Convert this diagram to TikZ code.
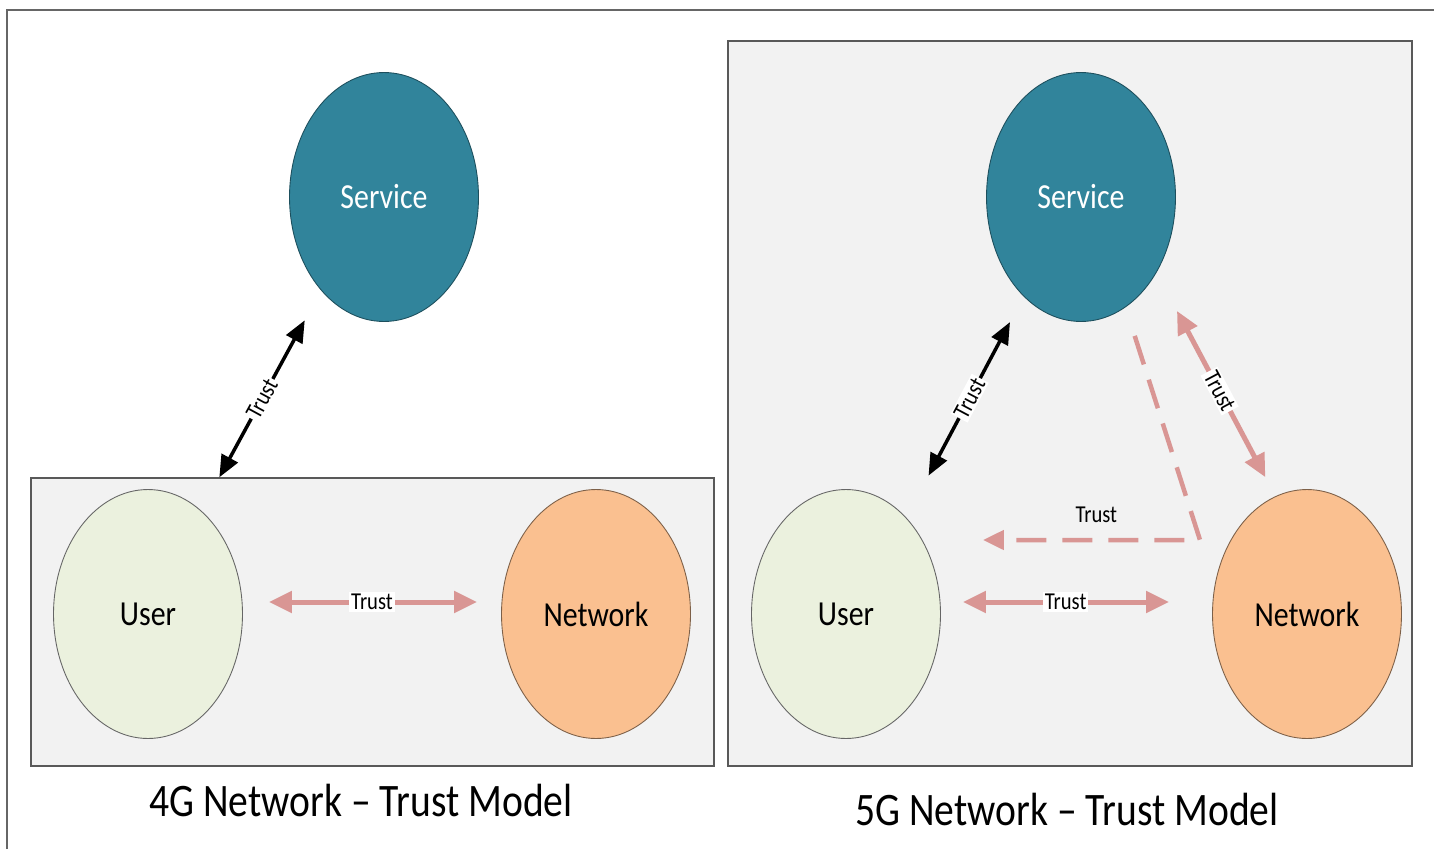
\documentclass[tikz,border=0pt]{standalone}
\usepackage{fontspec}
\setmainfont[FakeStretch=0.85]{Carlito}
\usepackage{xcolor}
\usepackage{tikz}
\usetikzlibrary{arrows.meta,positioning,shapes.geometric,calc}
\definecolor{svcteal}{HTML}{31849B}
\definecolor{usrgreen}{HTML}{EBF1DE}
\definecolor{netorange}{HTML}{FAC090}
\definecolor{pinkarrow}{HTML}{D99694}
\definecolor{panelgray}{HTML}{F2F2F2}
\tikzset{
  oval/.style={
    ellipse, minimum width=3.78cm, minimum height=4.98cm, inner sep=0pt,
    line width=0.5pt, font=\fontsize{20}{24}\selectfont
  },
  svcnode/.style={oval, fill=svcteal, draw=svcteal!60!black, text=white},
  usrnode/.style={oval, fill=usrgreen, draw=black!60},
  netnode/.style={oval, fill=netorange, draw=netorange!50!black},
  panel/.style={
    rectangle, draw=black!65, fill=panelgray, line width=0.8pt, inner sep=0pt
  },
  caption/.style={font=\fontsize{26.5}{30}\selectfont, inner sep=0pt},
  lbl/.style={font=\fontsize{13.8}{16}\selectfont, inner sep=1pt, text=black},
  lblw/.style={lbl, fill=white},
  trustblk/.style={{Triangle[length=0.44cm,width=0.36cm]}-{Triangle[length=0.44cm,width=0.36cm]},
    line width=0.07cm, color=black},
  trustpink/.style={{Triangle[length=0.46cm,width=0.42cm]}-{Triangle[length=0.46cm,width=0.42cm]},
    line width=0.1cm, color=pinkarrow},
  trustdash/.style={-{Triangle[length=0.42cm,width=0.38cm]},
    line width=0.09cm, color=pinkarrow, dash pattern=on 0.6cm off 0.32cm},
  frameline/.style={draw=black!60, line width=1pt},
}
\begin{document}
\begin{tikzpicture}[x=0.02cm,y=-0.02cm]
  \useasboundingbox (0,0) rectangle (1434,849);
  \draw[frameline] (7,849) -- (7,10) -- (1434,10);

  % Panels
  \node[panel, minimum width=13.66cm, minimum height=5.76cm] (box4g) at (372.5,622) {};
  \node[panel, minimum width=13.68cm, minimum height=14.5cm] (box5g) at (1070,403.5) {};

  % 4G trust model
  \node[svcnode] (svc4g) at (384,197) {Service};
  \node[usrnode] (usr4g) at (148,614) {User};
  \node[netnode] (net4g) at (596,614) {Network};

  \draw[trustblk, shorten >=0.68cm] ([xshift=3.78cm]box4g.north west)
    -- node[lblw, sloped, pos=0.42]{Trust} (svc4g.236);
  \draw[trustpink, shorten <=0.52cm, shorten >=0.48cm] ([yshift=0.24cm]usr4g.east)
    -- node[lblw]{Trust} ([yshift=0.24cm]net4g.west);

  % 5G trust model
  \node[svcnode] (svc5g) at (1081,197) {Service};
  \node[usrnode] (usr5g) at (846,614) {User};
  \node[netnode] (net5g) at (1307,614) {Network};

  \draw[trustblk, shorten <=0.95cm, shorten >=0.58cm] (usr5g.58)
    -- node[lblw, sloped, pos=0.54]{Trust} (svc5g.240);
  \draw[trustpink, shorten <=0.87cm, shorten >=0.43cm] (svc5g.315)
    -- node[lblw, sloped, pos=0.53]{Trust} (net5g.105);
  \draw[trustpink, shorten <=0.44cm, shorten >=0.86cm] ([yshift=0.24cm]usr5g.east)
    -- node[lblw, pos=0.46]{Trust} ([yshift=0.24cm]net5g.west);

  % indirect trust via network
  \coordinate (dcorner) at (1200,540);
  \draw[trustdash, shorten <=0.6cm, shorten >=0.84cm] (svc5g.292) -- (dcorner)
    -- node[lbl, above=0.26cm, pos=0.4]{Trust} (usr5g.east |- dcorner);

  % Captions
  \node[caption] (cap4g) at (361,800) {4G Network -- Trust Model};
  \node[caption] (cap5g) at (1067,809) {5G Network -- Trust Model};
\end{tikzpicture}
\end{document}
